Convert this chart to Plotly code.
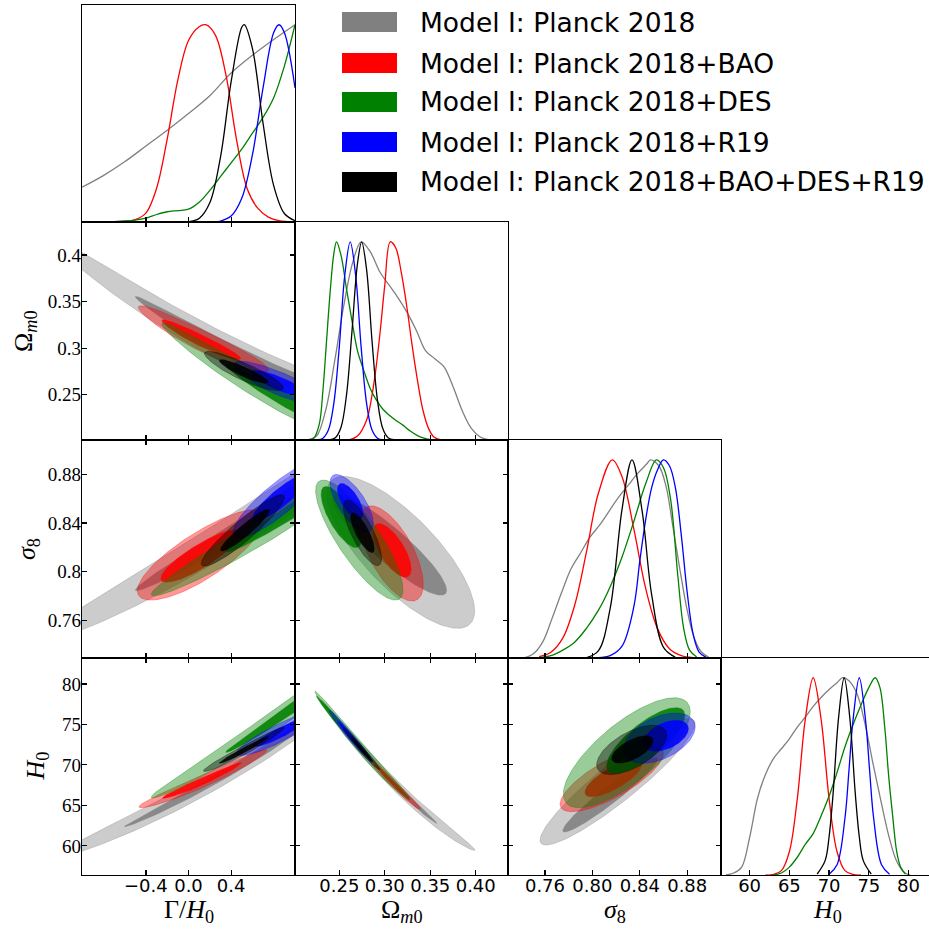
import numpy as np
import plotly.graph_objects as go

W, H = 929, 930

# ------------------------------------------------------------------ data
NAMES = ["Model I: Planck 2018", "Model I: Planck 2018+BAO", "Model I: Planck 2018+DES",
         "Model I: Planck 2018+R19", "Model I: Planck 2018+BAO+DES+R19"]
LINE_COLORS = ["#808080", "#ff0000", "#008000", "#0000ff", "#000000"]
FILL_RGB = [(128, 128, 128), (255, 0, 0), (0, 128, 0), (0, 0, 255), (0, 0, 0)]

# 1D marginals (x values, normalised density) per dataset: grey, red, green, blue, black
GAMMA_X = [
    [-1.0, -0.8, -0.6, -0.4, -0.2, 0.0, 0.2, 0.4, 0.6, 0.8, 1.0],
    [-0.7, -0.6, -0.5, -0.4, -0.3, -0.2, -0.1, 0.0, 0.1, 0.16, 0.25, 0.35, 0.45, 0.55, 0.65, 0.75, 0.85, 1.0],
    [-0.8, -0.7, -0.6, -0.5, -0.4, -0.3, -0.2, -0.1, 0.0, 0.1, 0.2, 0.3, 0.4, 0.5, 0.6, 0.7, 0.8, 0.9, 1.0],
    [0.2, 0.3, 0.4, 0.5, 0.6, 0.7, 0.8, 0.85, 0.9, 1.0],
    [-0.05, 0.0, 0.1, 0.2, 0.3, 0.4, 0.5, 0.524, 0.6, 0.7, 0.8, 0.9, 1.0],
]
GAMMA_P = [
    [0.176, 0.235, 0.305, 0.385, 0.465, 0.55, 0.64, 0.755, 0.845, 0.925, 1.0],
    [0.0, 0.003, 0.012, 0.045, 0.17, 0.42, 0.72, 0.92, 0.99, 1.0, 0.95, 0.75, 0.42, 0.17, 0.07, 0.025, 0.007, 0.0],
    [0.0, 0.002, 0.005, 0.01, 0.02, 0.038, 0.052, 0.058, 0.065, 0.10, 0.16, 0.23, 0.30, 0.37, 0.45, 0.53, 0.63, 0.79, 1.0],
    [0.0, 0.005, 0.03, 0.12, 0.34, 0.68, 0.96, 1.0, 0.96, 0.68],
    [0.0, 0.002, 0.018, 0.097, 0.328, 0.71, 0.987, 1.0, 0.88, 0.50, 0.184, 0.043, 0.0065],
]
OMEGA_X = [
    [0.215, 0.225, 0.235, 0.245, 0.255, 0.265, 0.274, 0.284, 0.295, 0.305, 0.315, 0.325, 0.335, 0.345, 0.355, 0.365, 0.375, 0.385, 0.395, 0.405, 0.415],
    [0.260, 0.270, 0.280, 0.285, 0.290, 0.295, 0.300, 0.306, 0.312, 0.318, 0.324, 0.330, 0.336, 0.342, 0.348, 0.354, 0.362],
    [0.215, 0.222, 0.228, 0.232, 0.236, 0.240, 0.244, 0.247, 0.252, 0.258, 0.264, 0.270, 0.277, 0.284, 0.291, 0.298, 0.305, 0.312, 0.320, 0.328, 0.336, 0.344, 0.352],
    [0.226, 0.232, 0.238, 0.244, 0.250, 0.256, 0.262, 0.268, 0.274, 0.280, 0.286, 0.292, 0.298],
    [0.240, 0.246, 0.252, 0.258, 0.264, 0.270, 0.2746, 0.280, 0.286, 0.292, 0.298, 0.304, 0.310],
]
OMEGA_P = [
    [0.0, 0.02, 0.15, 0.40, 0.68, 0.90, 1.0, 0.95, 0.845, 0.78, 0.715, 0.64, 0.55, 0.45, 0.41, 0.37, 0.27, 0.15, 0.06, 0.015, 0.0],
    [0.0, 0.02, 0.10, 0.20, 0.35, 0.55, 0.78, 1.0, 0.97, 0.85, 0.68, 0.48, 0.30, 0.15, 0.06, 0.015, 0.0],
    [0.0, 0.01, 0.08, 0.25, 0.50, 0.75, 0.94, 1.0, 0.93, 0.76, 0.60, 0.45, 0.35, 0.26, 0.20, 0.155, 0.125, 0.10, 0.075, 0.045, 0.022, 0.008, 0.0],
    [0.0012, 0.0092, 0.05, 0.185, 0.47, 0.83, 1.0, 0.83, 0.47, 0.185, 0.05, 0.0092, 0.0012],
    [0.0017, 0.013, 0.066, 0.23, 0.55, 0.89, 1.0, 0.86, 0.50, 0.20, 0.055, 0.010, 0.0013],
]
SIGMA_X = [
    [0.742, 0.750, 0.758, 0.766, 0.774, 0.782, 0.790, 0.798, 0.806, 0.814, 0.822, 0.830, 0.838, 0.846, 0.849, 0.856, 0.862, 0.868, 0.874, 0.880, 0.886, 0.892, 0.898],
    [0.755, 0.765, 0.775, 0.785, 0.795, 0.805, 0.8168, 0.825, 0.835, 0.845, 0.855, 0.865, 0.875, 0.885],
    [0.755, 0.765, 0.775, 0.785, 0.795, 0.805, 0.815, 0.825, 0.835, 0.845, 0.854, 0.860, 0.866, 0.872, 0.877, 0.882, 0.888],
    [0.805, 0.815, 0.825, 0.835, 0.840, 0.845, 0.850, 0.855, 0.860, 0.865, 0.870, 0.875, 0.880, 0.885, 0.890, 0.896],
    [0.795, 0.805, 0.815, 0.825, 0.8334, 0.842, 0.850, 0.860, 0.870],
]
SIGMA_P = [
    [0.0, 0.02, 0.08, 0.20, 0.33, 0.45, 0.53, 0.61, 0.67, 0.74, 0.81, 0.87, 0.93, 0.98, 1.0, 0.97, 0.87, 0.66, 0.44, 0.24, 0.10, 0.03, 0.005],
    [0.0066, 0.029, 0.10, 0.265, 0.535, 0.83, 1.0, 0.915, 0.65, 0.35, 0.147, 0.047, 0.012, 0.002],
    [0.002, 0.012, 0.04, 0.08, 0.15, 0.24, 0.36, 0.51, 0.69, 0.88, 1.0, 0.96, 0.80, 0.42, 0.15, 0.04, 0.005],
    [0.002, 0.012, 0.06, 0.26, 0.49, 0.70, 0.86, 0.95, 1.0, 0.97, 0.86, 0.62, 0.33, 0.12, 0.03, 0.003],
    [0.0023, 0.036, 0.25, 0.75, 1.0, 0.74, 0.32, 0.054, 0.004],
]
HUBBLE_X = [
    [57, 58, 59, 60, 61, 62, 63, 64, 65, 66, 67, 68, 69, 70, 71, 71.7, 72.5, 73.5, 74.5, 75.5, 76.5, 77.5, 78.5, 79.5, 80.2],
    [62, 63, 64, 65, 66, 67, 68, 69, 70, 71, 72, 73, 74],
    [63, 64, 65, 66, 67, 68, 69, 70, 71, 72, 73, 74, 75, 75.8, 76.4, 77, 77.5, 78, 78.5, 79, 79.6],
    [70, 71, 72, 72.5, 73, 73.8, 74.6, 75.1, 75.6, 76.6, 77.6],
    [68.5, 69.5, 70.0, 70.5, 71.2, 71.9, 72.6, 73.3, 73.8, 74.3, 75.3],
]
HUBBLE_P = [
    [0.0, 0.01, 0.04, 0.19, 0.39, 0.51, 0.59, 0.64, 0.69, 0.75, 0.80, 0.855, 0.90, 0.94, 0.975, 1.0, 0.985, 0.92, 0.77, 0.57, 0.38, 0.20, 0.07, 0.012, 0.0],
    [0.0, 0.0026, 0.022, 0.118, 0.386, 0.788, 1.0, 0.788, 0.386, 0.118, 0.022, 0.0026, 0.0],
    [0.0, 0.01, 0.04, 0.09, 0.155, 0.21, 0.30, 0.40, 0.52, 0.65, 0.76, 0.86, 0.95, 1.0, 0.95, 0.75, 0.50, 0.30, 0.12, 0.04, 0.005],
    [0.004, 0.052, 0.29, 0.53, 0.78, 1.0, 0.78, 0.53, 0.29, 0.052, 0.004],
    [0.005, 0.073, 0.194, 0.41, 0.80, 1.0, 0.80, 0.41, 0.194, 0.073, 0.005],
]

# 2D contours: per dataset [cx95, cy95, slope, a95, b95, cx68, cy68, a68, b68]
# (a = half extent along x, b = half chord in y, slope = tilt, bend = curvature of the panel)
GAMMA_OMEGA = [
    [0.60, 0.2852, -0.054, 2.00, 0.0165, 0.60, 0.2852, 1.10, 0.0085],
    [0.14, 0.3070, -0.055, 0.61, 0.0120, 0.12, 0.3080, 0.37, 0.0065],
    [1.10, 0.2332, -0.0568, 1.35, 0.0160, 1.20, 0.2275, 0.85, 0.0090],
    [0.85, 0.2620, -0.045, 0.42, 0.0130, 0.85, 0.2620, 0.26, 0.0075],
    [0.52, 0.2746, -0.050, 0.37, 0.0100, 0.52, 0.2746, 0.23, 0.0055],
]
GAMMA_SIGMA = [
    [0.60, 0.8422, 0.0557, 2.00, 0.016, 0.60, 0.8422, 1.10, 0.008],
    [0.12, 0.8130, 0.050, 0.60, 0.022, 0.11, 0.8125, 0.37, 0.011],
    [1.10, 0.8570, 0.057, 1.45, 0.013, 1.20, 0.8627, 0.85, 0.007],
    [0.85, 0.8600, 0.065, 0.43, 0.016, 0.87, 0.8613, 0.27, 0.009],
    [0.51, 0.8335, 0.070, 0.39, 0.011, 0.53, 0.8340, 0.23, 0.006],
]
GAMMA_HUBBLE = [
    [0.60, 70.91, 8.12, 2.00, 1.30, 0.60, 70.91, 1.20, 0.60],
    [0.135, 68.00, 5.80, 0.60, 0.80, 0.125, 67.95, 0.37, 0.45],
    [1.10, 78.20, 9.65, 1.45, 1.40, 1.20, 79.17, 0.85, 0.75],
    [0.85, 73.90, 6.50, 0.40, 1.20, 0.86, 73.97, 0.25, 0.65],
    [0.52, 71.80, 7.00, 0.38, 0.60, 0.52, 71.80, 0.23, 0.33],
]
OMEGA_SIGMA = [
    [0.3175, 0.8159, -0.593, 0.0813, 0.040, 0.305, 0.822, 0.063, 0.018],
    [0.3075, 0.8150, -0.727, 0.0348, 0.030, 0.308, 0.8175, 0.021, 0.016],
    [0.2720, 0.8260, -0.850, 0.0480, 0.028, 0.252, 0.845, 0.022, 0.017],
    [0.2636, 0.8563, -0.700, 0.0238, 0.0170, 0.262, 0.858, 0.014, 0.011],
    [0.2755, 0.8320, -1.000, 0.0210, 0.017, 0.2755, 0.832, 0.013, 0.010],
]
OMEGA_HUBBLE = [
    [0.3147, 67.14, -109.7, 0.0844, 0.80, 0.3204, 66.52, 0.0367, 0.35],
    [0.3080, 67.85, -113.0, 0.0310, 0.55, 0.3080, 67.85, 0.0190, 0.30],
    [0.2755, 71.80, -127.3, 0.0522, 0.80, 0.2550, 74.45, 0.0300, 0.45],
    [0.2630, 73.41, -132.9, 0.0240, 0.60, 0.2630, 73.41, 0.0150, 0.35],
    [0.2746, 71.90, -127.7, 0.0200, 0.50, 0.2746, 71.90, 0.0120, 0.30],
]
SIGMA_HUBBLE = [
    [0.8212, 67.90, 110.0, 0.0654, 3.00, 0.8150, 66.30, 0.0400, 1.30],
    [0.8163, 68.30, 72.0, 0.0436, 2.60, 0.8177, 68.35, 0.0240, 1.50],
    [0.8290, 71.50, 95.0, 0.0535, 4.50, 0.8450, 73.00, 0.0330, 2.60],
    [0.8564, 73.30, 46.0, 0.0303, 2.77, 0.8620, 73.60, 0.0190, 1.70],
    [0.8332, 71.85, 62.0, 0.0296, 2.43, 0.8338, 71.90, 0.0175, 1.30],
]
BEND = {"GO": 0.0088, "GS": 0.0033, "GH": 0.853, "OS": 0.0, "OH": 225.0, "SH": 0.0}

# axes
RANGES = [[-1.0, 1.0], [0.2013, 0.4355], [0.7288, 0.9085], [56.4, 83.2]]
TICKS = [[-0.4, 0.0, 0.4], [0.25, 0.30, 0.35, 0.40], [0.76, 0.80, 0.84, 0.88], [60, 65, 70, 75, 80]]
XTICKTEXT = [["\u22120.4", "0.0", "0.4"], ["0.25", "0.30", "0.35", "0.40"],
             ["0.76", "0.80", "0.84", "0.88"], ["60", "65", "70", "75", "80"]]
YTICKTEXT = [None, ["0.25", "0.3", "0.35", "0.4"], ["0.76", "0.8", "0.84", "0.88"],
             ["60", "65", "70", "75", "80"]]
LABELS = ["\u0393/<i>H</i><sub>0</sub>", "\u03a9<sub><i>m</i>0</sub>",
          "<i>\u03c3</i><sub>8</sub>", "<i>H</i><sub>0</sub>"]
YLABEL_X = [None, 25, 28, 36]

# ------------------------------------------------------------------ layout geometry (pixels)
COL_LEFT = [82, 295, 508, 721]
COL_W = 213
ROW_TOP = [5, 222, 440, 658]
ROW_BOT = [222, 440, 658, 875]

fig = go.Figure()
layout = dict(width=W, height=H, margin=dict(l=0, r=0, t=0, b=0),
              paper_bgcolor="white", plot_bgcolor="white", showlegend=False)

SERIF = "Liberation Serif"
SANS = "DejaVu Sans"

panel_id = {}
k = 0
for r in range(4):
    for c in range(r + 1):
        k += 1
        panel_id[(r, c)] = k


def axname(kind, k):
    return kind if k == 1 else f"{kind}{k}"


for (r, c), k in panel_id.items():
    x0 = COL_LEFT[c]
    x1 = min(COL_LEFT[c] + COL_W, W)
    xr = list(RANGES[c])
    if x1 < COL_LEFT[c] + COL_W:
        xr[1] = xr[0] + (xr[1] - xr[0]) * (x1 - x0) / COL_W
    xa = dict(domain=[x0 / W, x1 / W], range=xr, anchor=axname("y", k),
              showline=True, linecolor="black", linewidth=1.3,
              mirror=(True if r == c else "ticks"),
              ticks="inside", ticklen=5, tickwidth=1.2, tickcolor="black",
              tickvals=TICKS[c], ticktext=XTICKTEXT[c],
              showticklabels=(r == 3), ticklabelstandoff=-6,
              showgrid=False, zeroline=False,
              tickfont=dict(family=SANS, size=18, color="black"))
    ya = dict(domain=[1 - ROW_BOT[r] / H, 1 - ROW_TOP[r] / H], anchor=axname("x", k),
              showline=True, linecolor="black", linewidth=1.3,
              showgrid=False, zeroline=False)
    if r == c:
        ya.update(range=[0, 1.1], showticklabels=False, ticks="", mirror=(c != 3))
    else:
        ya.update(range=RANGES[r], tickvals=TICKS[r], ticktext=YTICKTEXT[r],
                  ticks="inside", ticklen=5, tickwidth=1.2, tickcolor="black",
                  mirror="ticks", showticklabels=(c == 0), ticklabelstandoff=-4,
                  tickfont=dict(family=SERIF, size=19, color="black"))
    layout["xaxis" if k == 1 else f"xaxis{k}"] = xa
    layout["yaxis" if k == 1 else f"yaxis{k}"] = ya

fig.update_layout(**layout)

# ------------------------------------------------------------------ 1D curves
ONE_D = [(GAMMA_X, GAMMA_P), (OMEGA_X, OMEGA_P), (SIGMA_X, SIGMA_P), (HUBBLE_X, HUBBLE_P)]
for i, (xs, ps) in enumerate(ONE_D):
    k = panel_id[(i, i)]
    for d in range(5):
        fig.add_trace(go.Scatter(x=xs[d], y=ps[d], mode="lines", line_shape="spline",
                                 line=dict(color=LINE_COLORS[d], width=1.3),
                                 xaxis=axname("x", k), yaxis=axname("y", k), hoverinfo="skip"))


# ------------------------------------------------------------------ 2D contours
def contour(cx, cy, s, a, b, q, n=181):
    t = np.linspace(0, 2 * np.pi, n)
    dx = a * np.cos(t)
    return cx + dx, cy + s * dx + q * dx ** 2 + b * np.sin(t)


TWO_D = [((1, 0), GAMMA_OMEGA, BEND["GO"]), ((2, 0), GAMMA_SIGMA, BEND["GS"]),
         ((3, 0), GAMMA_HUBBLE, BEND["GH"]), ((2, 1), OMEGA_SIGMA, BEND["OS"]),
         ((3, 1), OMEGA_HUBBLE, BEND["OH"]), ((3, 2), SIGMA_HUBBLE, BEND["SH"])]
for (r, c), table, q in TWO_D:
    k = panel_id[(r, c)]
    for d in range(5):
        cx95, cy95, s, a95, b95, cx68, cy68, a68, b68 = table[d]
        rr, gg, bb = FILL_RGB[d]
        for (cx, cy, a, b, alpha) in [(cx95, cy95, a95, b95, 0.4), (cx68, cy68, a68, b68, 0.88)]:
            x, y = contour(cx, cy, s, a, b, q)
            fig.add_trace(go.Scatter(x=x, y=y, mode="lines", fill="toself",
                                     fillcolor=f"rgba({rr},{gg},{bb},{alpha})",
                                     line=dict(color=f"rgba({rr},{gg},{bb},0.55)", width=0.6),
                                     xaxis=axname("x", k), yaxis=axname("y", k), hoverinfo="skip"))

# ------------------------------------------------------------------ axis titles
ann = []
for c in range(4):
    xc = (COL_LEFT[c] + COL_W / 2) / W
    ann.append(dict(text=LABELS[c], x=xc, y=1 - 911 / H, xref="paper", yref="paper",
                    showarrow=False, xanchor="center", yanchor="middle",
                    font=dict(family=SERIF, size=26, color="black")))
for r in range(1, 4):
    yc = 1 - (ROW_TOP[r] + ROW_BOT[r]) / 2 / H
    ann.append(dict(text=LABELS[r], x=YLABEL_X[r] / W, y=yc, xref="paper", yref="paper",
                    showarrow=False, xanchor="center", yanchor="middle", textangle=-90,
                    font=dict(family=SERIF, size=26, color="black")))

# ------------------------------------------------------------------ legend (patches + text)
shapes = []
LEG_Y = [22, 63, 102, 142, 182]
for d in range(5):
    yc = LEG_Y[d]
    shapes.append(dict(type="rect", xref="paper", yref="paper",
                       x0=342 / W, x1=397 / W, y0=1 - (yc + 10) / H, y1=1 - (yc - 10) / H,
                       fillcolor=LINE_COLORS[d], line=dict(width=0)))
    ann.append(dict(text=NAMES[d], x=418 / W, y=1 - yc / H, xref="paper", yref="paper",
                    showarrow=False, xanchor="left", yanchor="middle",
                    font=dict(family=SANS, size=26.5, color="black")))

fig.update_layout(annotations=ann, shapes=shapes)
fig.write_html("out.html", config={"displayModeBar": False, "staticPlot": True},
               post_script="document.body.style.margin='0px';document.body.style.overflow='hidden';")
